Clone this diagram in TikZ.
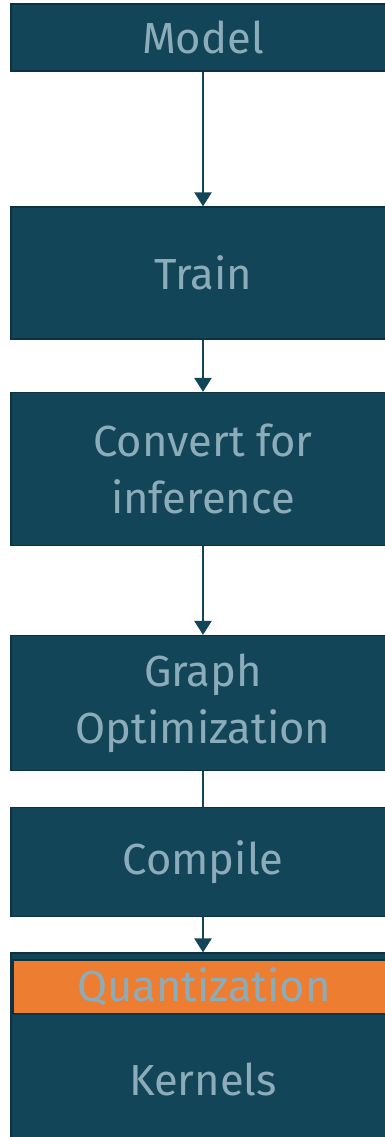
\documentclass[tikz,border=0pt]{standalone}
\usepackage{fontspec}
\setmainfont{Fira Sans}
\usetikzlibrary{arrows.meta}
\definecolor{boxfill}{HTML}{134559}
\definecolor{boxline}{HTML}{0D3242}
\definecolor{labeltxt}{HTML}{8DACBA}
\definecolor{quantfill}{HTML}{ED7D31}
\tikzset{
  labelfont/.style={font=\fontsize{43.5}{57}\selectfont},
  stage/.style={rectangle, draw=boxline, line width=1.2pt, fill=boxfill,
    minimum width=384pt, inner sep=0pt, text=labeltxt, align=center, labelfont},
  quantbar/.style={rectangle, draw=boxline, line width=1.2pt, fill=quantfill,
    minimum width=382pt, minimum height=54pt, inner sep=0pt, text=labeltxt, labelfont},
  plain/.style={inner sep=0pt, text=labeltxt, labelfont},
  flow/.style={draw=boxfill, line width=2.4pt,
    -{Triangle[length=14pt,width=17pt]}},
  link/.style={draw=boxfill, line width=2.4pt}
}
\begin{document}
\begin{tikzpicture}[x=1pt,y=-1pt]
\useasboundingbox (0,0) rectangle (385,1137);

\node[stage, minimum height=67pt] (model) at (203,37.5) {Model};
\node[stage, minimum height=132pt] (train) at (203,273) {Train};
\node[stage, minimum height=153pt] (convert) at (203,469) {Convert for\\inference};
\node[stage, minimum height=135pt] (graph) at (203,703) {Graph\\Optimization};
\node[stage, minimum height=109pt] (compile) at (203,862) {Compile};
\node[stage, minimum height=200pt] (kernels) at (203,1053) {};
\node[quantbar] (quant) at (204,987) {Quantization};
\node[plain] (kernlabel) at (203,1079) {Kernels};

\draw[flow] (model.south) -- (train.north);
\draw[flow] (train.south) -- (convert.north);
\draw[flow] (convert.south) -- (graph.north);
\draw[link] (graph.south) -- (compile.north);
\draw[flow] (compile.south) -- (kernels.north);
\end{tikzpicture}
\end{document}
